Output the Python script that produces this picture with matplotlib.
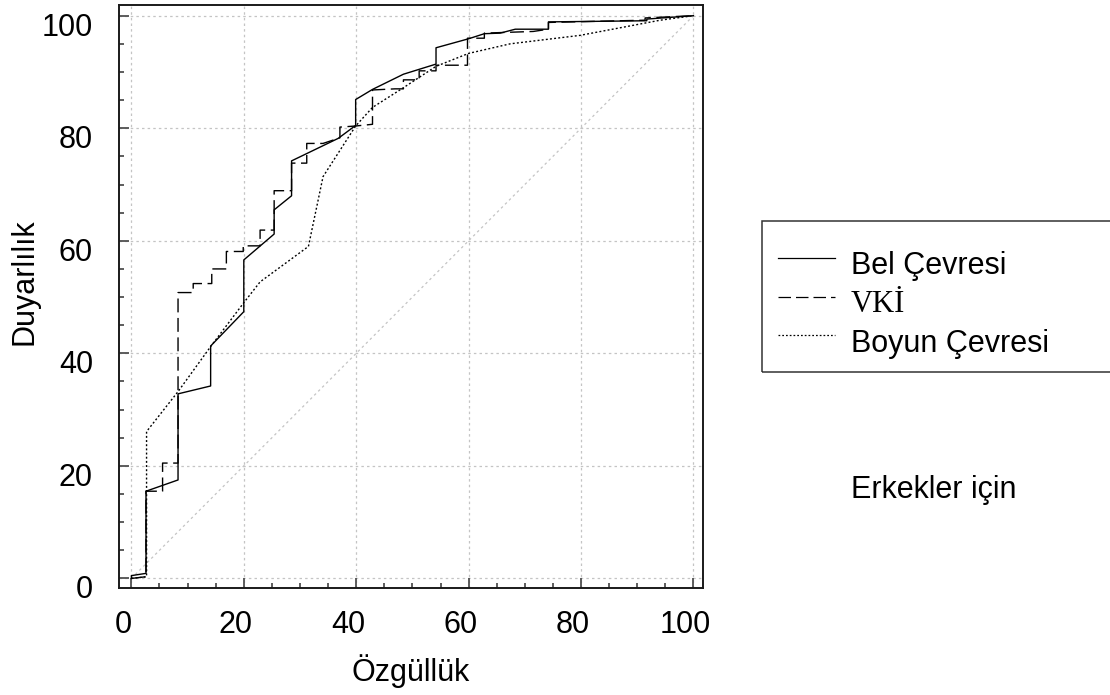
import matplotlib
matplotlib.use("Agg")
import matplotlib.pyplot as plt
from matplotlib.lines import Line2D
from matplotlib.patches import Rectangle
from matplotlib.ticker import MultipleLocator
import matplotlib.transforms as mtransforms

plt.rcParams['font.family'] = ['Liberation Sans', 'DejaVu Sans']

# ROC curves: x = 100 - specificity (Özgüllük axis), y = sensitivity
bel_x = [0, 0, 2.6, 2.6, 8.3, 8.3, 14.1, 14.1, 20.0, 20.0, 25.4, 25.4, 28.5, 28.5,
         36.8, 39.9, 39.9, 42.9, 48.4, 54.2, 54.2, 60.0, 62.8, 65.6, 68.3, 74.2,
         74.2, 91.7, 91.7, 100]
bel_y = [0, 0.5, 0.9, 15.5, 17.5, 32.8, 34.2, 41.3, 47.4, 56.6, 61.2, 65.5, 68.0, 74.2,
         78.2, 80.5, 85.1, 86.9, 89.6, 91.4, 94.3, 95.9, 96.8, 96.9, 97.6, 97.6,
         98.9, 99.1, 99.4, 100]

vki_x = [0, 2.6, 2.6, 5.55, 5.55, 8.3, 8.3, 11.0, 11.0, 14.3, 14.3, 16.9, 16.9, 19.9,
         19.9, 22.9, 22.9, 25.4, 25.4, 28.5, 28.5, 31.2, 31.2, 34.1, 37.1, 37.1,
         39.9, 42.9, 42.9, 46.9, 48.4, 48.4, 51.2, 51.2, 54.2, 54.2, 59.8, 59.8,
         62.8, 62.8, 71.5, 74.2, 74.2, 91.4, 91.4, 100]
vki_y = [0, 0.3, 15.5, 15.5, 20.5, 20.5, 50.8, 50.8, 52.4, 52.4, 55.0, 55.0, 58.1, 58.1,
         59.1, 59.1, 61.9, 61.9, 68.9, 68.9, 73.8, 73.8, 77.3, 77.3, 78.3, 80.2,
         80.4, 80.7, 86.8, 87.0, 87.0, 88.6, 88.6, 90.2, 90.2, 91.2, 91.2, 96.0,
         96.0, 96.9, 97.2, 97.6, 98.8, 99.2, 99.6, 100]

boyun_x = [0, 2.7, 2.7, 8.3, 14.1, 20.0, 22.9, 31.5, 34.1, 39.9, 42.9, 48.4, 54.2,
           60.0, 67.4, 79.8, 94.1, 100]
boyun_y = [0, 0.3, 26.1, 33.2, 41.2, 49.0, 52.7, 59.0, 71.4, 80.4, 83.7, 87.2, 91.0,
           93.3, 95.0, 96.5, 99.2, 100]

series_labels = ["Bel Çevresi", "VKİ", "Boyun Çevresi"]
ticks = [0, 20, 40, 60, 80, 100]
x_title = "Özgüllük"
y_title = "Duyarlılık"
note = "Erkekler için"

W, H = 1110, 695
fig = plt.figure(figsize=(W / 100, H / 100), dpi=100)


def fx(px):
    return px / W


def fy(py):
    return 1 - py / H


ax_l, ax_r, ax_t, ax_b = 119.3, 703.0, 5.0, 588.0
ax = fig.add_axes([fx(ax_l), fy(ax_b), (ax_r - ax_l) / W, (ax_b - ax_t) / H])
ax.set_xlim(-2.15, 101.7)
ax.set_ylim(-1.7, 101.9)

grid_style = dict(color='#c4c4c4', lw=0.9, ls=(0, (2, 2.5)), zorder=1)
for t in ticks:
    ax.axvline(t, **grid_style)
    ax.axhline(t, **grid_style)
ax.plot([0, 100], [0, 100], **grid_style)

dash = (0, (10, 4))
dot = (0, (1.4, 1.6))
ax.plot(bel_x, bel_y, color='black', lw=1.0, ls='-', zorder=4)
ax.plot(vki_x, vki_y, color='black', lw=1.0, ls=dash, zorder=3)
ax.plot(boyun_x, boyun_y, color='black', lw=1.0, ls=dot, zorder=3)

ax.set_xticks(ticks)
ax.set_yticks(ticks)
ax.xaxis.set_minor_locator(MultipleLocator(5))
ax.yaxis.set_minor_locator(MultipleLocator(5))
ax.tick_params(which='both', direction='in', color='#505050', width=1.3,
               top=False, right=False)
ax.tick_params(which='major', length=7.2, labelsize=22)
ax.tick_params(which='minor', length=3.6)
ax.tick_params(axis='x', which='major', pad=16)
ax.tick_params(axis='y', which='major', pad=19)
for s in ax.spines.values():
    s.set_linewidth(1.4)
    s.set_color('#1a1a1a')

# tick labels sit slightly off their ticks
for lab in ax.get_xticklabels():
    lab.set_transform(lab.get_transform() +
                      mtransforms.ScaledTranslation(-8 / 100, 0, fig.dpi_scale_trans))
for lab in ax.get_yticklabels():
    lab.set_transform(lab.get_transform() +
                      mtransforms.ScaledTranslation(0, -8.5 / 100, fig.dpi_scale_trans))

fig.text(fx(411), fy(681), x_title, fontsize=22, ha='center', va='baseline')
fig.text(fx(24.5), fy(282), y_title, fontsize=22, ha='center', va='center', rotation=90)

# legend box, open on the right where it meets the image edge
fig.add_artist(Rectangle((fx(761.7), fy(371.7)), (W + 20 - 761.7) / W,
                         (371.7 - 220.7) / H, transform=fig.transFigure,
                         fill=False, edgecolor='#333333', lw=1.1))
legend_styles = ['-', dash, dot]
sample_y = [258.3, 296.7, 335.0]
text_base = [274.0, 311.7, 351.7]
fonts = [['Liberation Sans', 'DejaVu Sans'], ['Liberation Serif', 'DejaVu Serif'],
         ['Liberation Sans', 'DejaVu Sans']]
for lab, st, sy, tb, fam in zip(series_labels, legend_styles, sample_y, text_base, fonts):
    fig.add_artist(Line2D([fx(778), fx(835)], [fy(sy), fy(sy)], transform=fig.transFigure,
                          color='black', lw=0.9, ls=st))
    fig.text(fx(850.7), fy(tb), lab, fontsize=22, family=fam, ha='left', va='baseline')

fig.text(fx(850.7), fy(498.3), note, fontsize=22, ha='left', va='baseline')

fig.savefig("out.png", dpi=100)
